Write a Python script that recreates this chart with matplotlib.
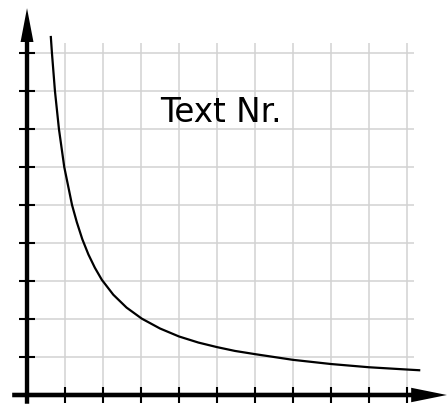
import numpy as np
import matplotlib
matplotlib.use('Agg')
import matplotlib.pyplot as plt

# ------------------------------------------------------
# Values (grid units)
curve_x = [0.625, 0.656, 0.735, 0.84, 0.98, 1.185, 1.31, 1.455, 1.615, 1.785,
           1.97, 2.27, 2.62, 3.02, 3.5, 4.0, 4.51, 5.0, 5.47, 6.0, 7.0, 8.0,
           9.0, 10.0, 10.35]
curve_y = [9.45, 9.0, 8.0, 7.0, 6.0, 5.0, 4.55, 4.1, 3.7, 3.35,
           3.03, 2.64, 2.3, 2.01, 1.75, 1.54, 1.38, 1.26, 1.16, 1.075, 0.925,
           0.815, 0.73, 0.67, 0.65]
x_ticks = list(range(1, 11))
y_ticks = list(range(1, 10))
label_text = 'Text Nr.'
# ------------------------------------------------------

fig = plt.figure(figsize=(4.47, 4.04), dpi=100)
ax = fig.add_axes([0, 0, 1, 1])
ax.set_xlim(-0.711, 11.053)
ax.set_ylim(-0.237, 10.395)
ax.axis('off')

# grid
grid_top = 9.27
grid_right = 10.19
ax.vlines(x_ticks, 0, grid_top, color='#d2d2d2', lw=1.1, zorder=1)
ax.hlines(y_ticks, 0, grid_right, color='#d2d2d2', lw=1.1, zorder=1)

# curve
ax.plot(curve_x, curve_y, color='black', lw=1.6, zorder=3,
        solid_joinstyle='round', solid_capstyle='butt')

# axes with arrows
ax.arrow(-0.39, 0, 11.44, 0, width=0.12, head_width=0.38, head_length=0.94,
         length_includes_head=True, fc='black', ec='none', zorder=4)
ax.arrow(0, -0.23, 0, 10.41, width=0.115, head_width=0.34, head_length=0.89,
         length_includes_head=True, fc='black', ec='none', zorder=4)

# ticks
ax.vlines(x_ticks, -0.2, 0.2, color='black', lw=1.5, zorder=4)
ax.hlines(y_ticks, -0.2, 0.2, color='black', lw=1.5, zorder=4)

ax.text(5.11, 7.43, label_text, fontsize=23.5, ha='center', va='center',
        family='DejaVu Sans', zorder=5)

fig.savefig('out.png', dpi=100)
